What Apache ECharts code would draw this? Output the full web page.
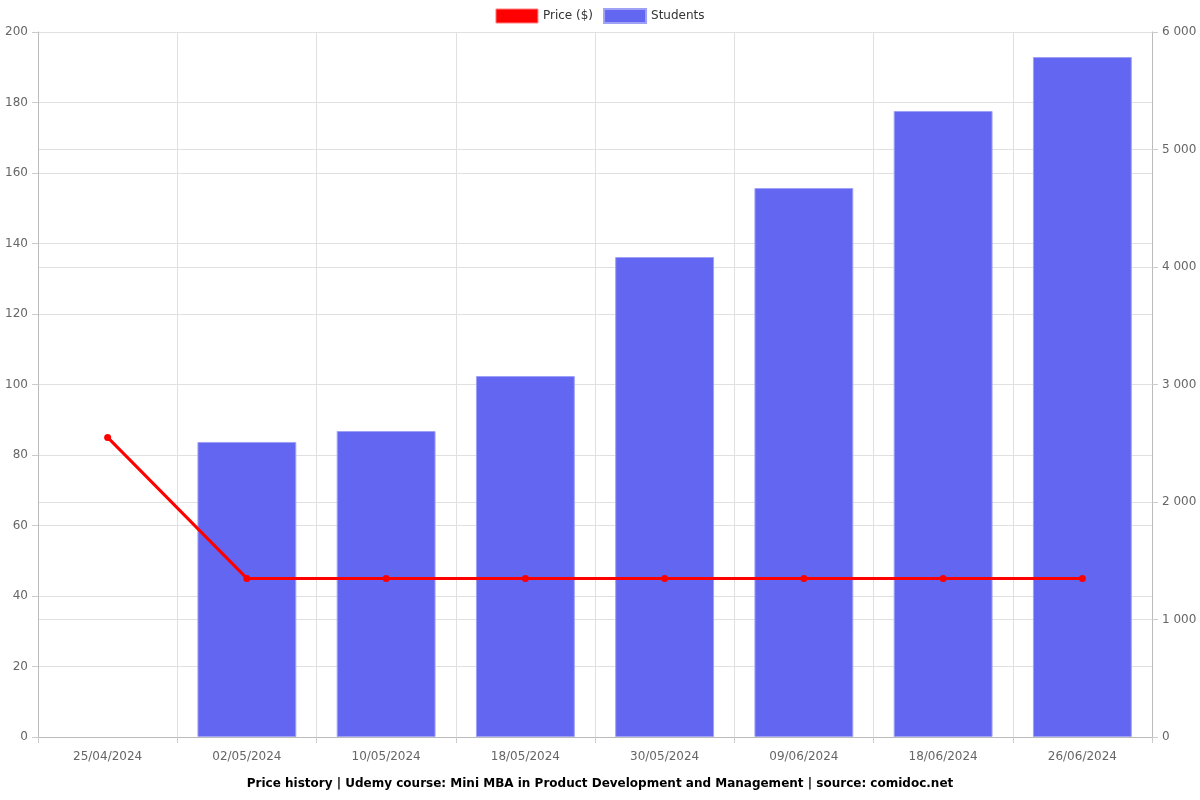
<!DOCTYPE html>
<html><head><meta charset="utf-8">
<script src="https://cdn.jsdelivr.net/npm/echarts@6/dist/echarts.min.js"></script>
<style>html,body{margin:0;padding:0;background:#fff}#c{width:1200px;height:800px}</style>
</head><body><div id="c"></div>
<script>
const categories = ['25/04/2024','02/05/2024','10/05/2024','18/05/2024','30/05/2024','09/06/2024','18/06/2024','26/06/2024'];
const priceValues = [85,45,45,45,45,45,45,45];
const studentValues = [null,2511,2604,3072,4085,4672,5328,5787];
const chart = echarts.init(document.getElementById('c'));
const fmt = v => String(v).replace(/\B(?=(\d{3})+(?!\d))/g, ' ');
chart.setOption({
  animation:false,
  textStyle:{fontFamily:'DejaVu Sans'},
  legend:{top:3,left:'center',itemWidth:42,itemHeight:14,itemGap:10,textStyle:{fontSize:12,color:'#333'},
    data:[{name:'Price ($)',icon:'rect',itemStyle:{color:'#ff0000',borderColor:'#ff8080',borderWidth:1}},
          {name:'Students',icon:'rect'}]},
  title:{text:'Price history | Udemy course: Mini MBA in Product Development and Management | source: comidoc.net',
    left:'center',bottom:5,textStyle:{fontSize:12,fontWeight:'bold',color:'#000'}},
  grid:{left:38,right:48,top:32,bottom:63},
  xAxis:{type:'category',data:categories,boundaryGap:true,
    axisLine:{lineStyle:{color:'#bbb'}},axisTick:{show:true,length:6,lineStyle:{color:'#ccc'}},
    axisLabel:{color:'#666',fontSize:12,margin:14},
    splitLine:{show:true,lineStyle:{color:'#e0e0e0'}}},
  yAxis:[
    {type:'value',min:0,max:200,interval:20,position:'left',
     axisLine:{show:true,lineStyle:{color:'#bbb'}},axisTick:{show:true,length:6,lineStyle:{color:'#ccc'}},
     axisLabel:{color:'#666',fontSize:12,margin:10},splitLine:{lineStyle:{color:'#e0e0e0'}}},
    {type:'value',min:0,max:6000,interval:1000,position:'right',
     axisLine:{show:true,lineStyle:{color:'#bbb'}},axisTick:{show:true,length:6,lineStyle:{color:'#ccc'}},
     axisLabel:{color:'#666',fontSize:12,margin:10,formatter:fmt},splitLine:{lineStyle:{color:'#e0e0e0'}}}
  ],
  series:[
    {name:'Price ($)',type:'line',yAxisIndex:0,data:priceValues,z:5,
     lineStyle:{color:'#ff0000',width:3},itemStyle:{color:'#ff0000'},
     symbol:'circle',symbolSize:7,showSymbol:true},
    {name:'Students',type:'bar',yAxisIndex:1,data:studentValues,barWidth:'71%',z:2,
     itemStyle:{color:'#6366f1',borderColor:'#9fa1f7',borderWidth:1}}
  ]
});
</script></body></html>
